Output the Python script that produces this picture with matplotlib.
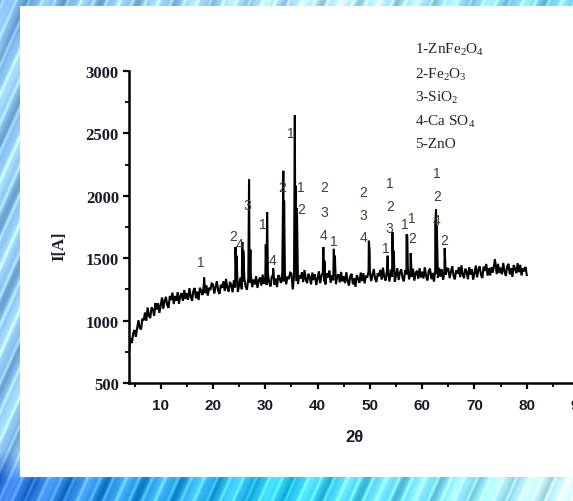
import numpy as np
import matplotlib
matplotlib.use("Agg")
import matplotlib.pyplot as plt
from matplotlib.patches import Rectangle
from matplotlib.ticker import MultipleLocator

plt.rcParams['mathtext.fontset'] = 'custom'
plt.rcParams['mathtext.rm'] = 'Liberation Serif'
plt.rcParams['mathtext.it'] = 'Liberation Serif:italic'

# ---- diffraction scan: 2theta from 4 to 80 deg, 0.25 deg step ----
scan_start, scan_stop, scan_step = 4.0, 80.0, 0.25
background_counts = [
    770, 860, 820, 900,
    925, 870, 940, 1003, 940, 930, 1015, 1003, 1065, 998, 1105, 1040, 1020, 1105, 1090, 1038, 1140, 1088, 1140, 1062,
    1120, 1185, 1095, 1160, 1190, 1124, 1103, 1197, 1165, 1224, 1133, 1197, 1160, 1228, 1135, 1198, 1220, 1158, 1245, 1173,
    1220, 1168, 1260, 1193, 1160, 1238, 1261, 1179, 1232, 1165, 1263, 1236, 1205, 1287, 1220, 1282, 1200, 1263, 1245, 1297,
    1290, 1217, 1269, 1316, 1238, 1215, 1287, 1263, 1315, 1237, 1334, 1261, 1233, 1310, 1286, 1227, 1324, 1266, 1313, 1230,
    1282, 1344, 1251, 1312, 1339, 1270, 1247, 1338, 1305, 1361, 1268, 1329, 1290, 1356, 1262, 1323, 1345, 1281, 1368, 1294,
    1340, 1286, 1377, 1308, 1274, 1350, 1371, 1287, 1338, 1269, 1365, 1336, 1302, 1383, 1314, 1375, 1291, 1352, 1333, 1384,
    1377, 1250, 1352, 1397, 1317, 1293, 1363, 1338, 1388, 1308, 1405, 1330, 1300, 1375, 1350, 1290, 1385, 1325, 1370, 1285,
    1335, 1395, 1300, 1360, 1385, 1315, 1290, 1380, 1345, 1400, 1303, 1363, 1323, 1387, 1292, 1352, 1371, 1306, 1390, 1315,
    1355, 1300, 1388, 1318, 1282, 1356, 1375, 1290, 1340, 1270, 1365, 1336, 1303, 1385, 1317, 1380, 1298, 1360, 1345, 1395,
    1390, 1316, 1367, 1413, 1334, 1310, 1380, 1356, 1407, 1328, 1424, 1350, 1321, 1397, 1373, 1313, 1409, 1350, 1396, 1311,
    1360, 1420, 1325, 1385, 1410, 1340, 1315, 1405, 1370, 1425, 1330, 1390, 1350, 1415, 1320, 1380, 1400, 1335, 1420, 1345,
    1392, 1337, 1427, 1357, 1322, 1397, 1417, 1332, 1382, 1312, 1407, 1377, 1342, 1422, 1352, 1412, 1327, 1387, 1367, 1417,
    1415, 1340, 1391, 1436, 1356, 1331, 1402, 1377, 1427, 1348, 1443, 1369, 1340, 1416, 1392, 1332, 1428, 1368, 1413, 1328,
    1380, 1441, 1347, 1408, 1434, 1365, 1341, 1432, 1398, 1454, 1360, 1421, 1362, 1428, 1384, 1445, 1465, 1372, 1455, 1381,
    1425, 1371, 1462, 1393, 1358, 1434, 1455, 1370, 1420, 1350, 1445, 1415, 1380, 1460, 1388, 1447, 1362, 1420, 1395, 1430,
    1365,
]

# reflection maxima (2theta, counts)
peak_2theta = [18.3, 24.3, 24.5, 25.6, 25.8, 26.9, 27.15, 30.1, 30.35, 31.5,
               33.45, 33.6, 35.65, 35.85, 36.05, 41.1, 41.3, 43.1, 43.3,
               49.8, 49.95, 53.4, 54.3, 54.55, 57.0, 57.15, 57.8,
               62.5, 62.65, 62.8, 64.3, 73.9]
peak_counts = [1345, 1590, 1520, 1630, 1560, 2130, 1570, 1610, 1870, 1420,
               2200, 1960, 2645, 2080, 1900, 1590, 1480, 1575, 1520,
               1640, 1560, 1520, 1710, 1560, 1690, 1680, 1540,
               1770, 1890, 1760, 1580, 1490]

# phase markers above the reflections (label, 2theta, counts)
marker_text = ['1', '2', '4', '3', '1', '4', '2', '1', '1', '2',
               '2', '3', '4', '1', '2', '3', '4', '1', '2', '3', '1',
               '1', '1', '2', '1', '2', '4', '2']
marker_2theta = [17.6, 23.8, 25.1, 26.6, 29.5, 31.4, 33.3, 34.9, 36.8, 36.8,
                 41.2, 41.2, 41.2, 43.1, 48.8, 48.8, 48.8, 53.8, 53.8, 53.8, 53.0,
                 56.7, 58.0, 58.0, 62.8, 62.8, 62.8, 64.3]
marker_counts = [1469, 1677, 1613, 1926, 1774, 1485, 2070, 2503, 2070, 1894,
                 2070, 1870, 1686, 1637, 2030, 1846, 1670, 2102, 1918, 1742, 1581,
                 1774, 1822, 1661, 2182, 1998, 1806, 1645]

phase_names = ['1-ZnFe$_2$O$_4$', '2-Fe$_2$O$_3$', '3-SiO$_2$',
               '4-Ca SO$_4$', '5-ZnO']

x_ticks = [10, 20, 30, 40, 50, 60, 70, 80, 90]
y_ticks = [500, 1000, 1500, 2000, 2500, 3000]

# ---- figure ----
W, H = 573, 502
fig = plt.figure(figsize=(W / 100, H / 100), dpi=100)


def gradient(u, stops, colors):
    colors = np.asarray(colors)
    return np.stack([np.interp(u, stops, colors[:, c]) for c in range(3)], -1)


# decorative blue backdrop with diagonal streaks
yy, xx = np.mgrid[0:H, 0:W].astype(float)
u, v = xx / W, yy / H
top = gradient(u, [0, 0.6, 1], [(0.45, 0.68, 0.92), (0.74, 0.94, 0.99), (0.45, 0.82, 0.96)])
bot = gradient(u, [0, 0.5, 1], [(0.18, 0.45, 0.86), (0.18, 0.80, 0.96), (0.82, 0.97, 1.0)])
side = np.array([0.56, 0.77, 0.95])
w_top = np.clip(1 - v / 0.1, 0, 1)[..., None]
w_bot = np.clip((v - 0.90) / 0.06, 0, 1)[..., None]
img = top * w_top + side * (1 - w_top)
img = img * (1 - w_bot) + bot * w_bot
streak = 0.5 + 0.5 * np.sin(2 * np.pi * (xx + 0.45 * yy) / 13.0)
streak2 = 0.5 + 0.5 * np.sin(2 * np.pi * (xx + 0.45 * yy) / 37.0)
img = img + (streak ** 6 * 0.18 + streak2 ** 4 * 0.10)[..., None] \
    - ((1 - streak2) ** 6 * 0.14)[..., None]
img = np.clip(img, 0, 1)
bg = fig.add_axes([0, 0, 1, 1], zorder=0)
bg.imshow(img, aspect='auto', extent=[0, W, H, 0], interpolation='bilinear')
bg.set_xlim(0, W)
bg.set_ylim(H, 0)
bg.axis('off')
bg.add_patch(Rectangle((20, 7), W - 20, 471, facecolor='white', edgecolor='none'))

# ---- main axes ----
ax_left, ax_bottom = 129.3 / W, (H - 384) / H
ax_h = 312 / H
xmin, xmax = 4.0, 100.0
ax_w = (xmax - xmin) * 5.23 / W
ax = fig.add_axes([ax_left, ax_bottom, ax_w, ax_h], zorder=2)
ax.set_facecolor('none')

scan_x = np.arange(scan_start, scan_stop + scan_step / 2, scan_step)
all_x = np.concatenate([scan_x, peak_2theta])
all_y = np.concatenate([background_counts, peak_counts])
order = np.argsort(all_x, kind='stable')
ax.plot(all_x[order], all_y[order], color='black', lw=1.5, solid_joinstyle='miter')

for t, mx, my in zip(marker_text, marker_2theta, marker_counts):
    ax.text(mx, my, t, ha='center', va='center', fontsize=10,
            family='Liberation Sans', color='#4a3b33')

ax.set_xlim(xmin, xmax)
ax.set_ylim(500, 3000)
ax.set_xticks(x_ticks)
ax.set_yticks(y_ticks)
ax.xaxis.set_minor_locator(MultipleLocator(5))
ax.yaxis.set_minor_locator(MultipleLocator(250))
for s in ('top', 'right'):
    ax.spines[s].set_visible(False)
for s in ('left', 'bottom'):
    ax.spines[s].set_linewidth(1.8)
ax.tick_params(which='major', direction='out', length=4.5, width=1.6)
ax.tick_params(which='minor', direction='out', length=3, width=1.3)
ax.tick_params(axis='x', which='major', pad=6)
ax.tick_params(axis='y', which='major', pad=3)
for lab in ax.get_xticklabels():
    lab.set_fontfamily('Liberation Sans')
    lab.set_fontweight('bold')
    lab.set_fontsize(11)
    lab.set_color('#1a1a2a')
for lab in ax.get_yticklabels():
    lab.set_fontfamily('Liberation Serif')
    lab.set_fontweight('bold')
    lab.set_fontsize(12)
    lab.set_color('#1a1a2a')

fig.text(355 / W, 1 - 438 / H, '2θ', ha='center', va='center',
         fontsize=12, fontweight='bold', family='Liberation Sans', color='#1a1a2a')
fig.text(59 / W, 1 - 246 / H, 'I[A]', ha='center', va='center', rotation=90,
         fontsize=12, fontweight='bold', family='Liberation Serif', color='#1a1a2a')

legend_rows = [50, 75, 98, 122, 145]
for name, ry in zip(phase_names, legend_rows):
    fig.text(415 / W, 1 - ry / H, name, ha='left', va='center', fontsize=11,
             family='Liberation Serif', color='#222230')

fig.savefig('out.png', dpi=100)
